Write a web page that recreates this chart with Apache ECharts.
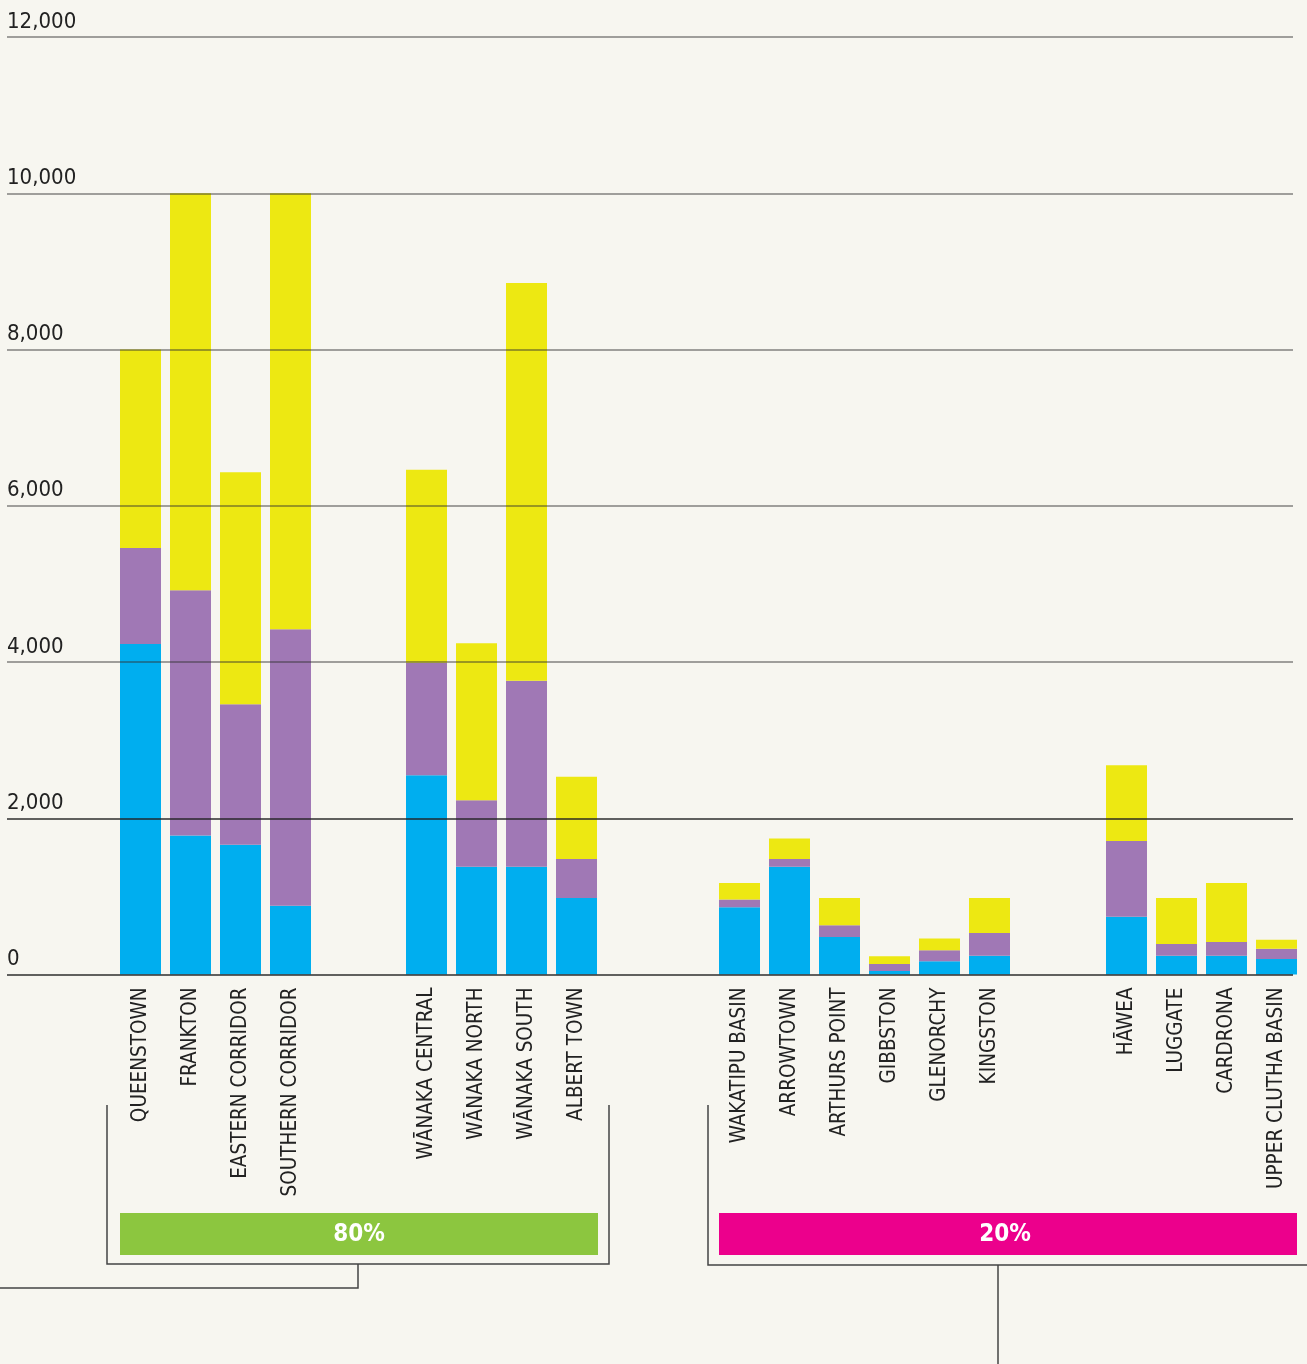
<!DOCTYPE html>
<html>
<head>
<meta charset="utf-8">
<script src="https://cdn.jsdelivr.net/npm/echarts@6/dist/echarts.min.js"></script>
<style>
html,body{margin:0;padding:0;background:#F7F6F0;}
#chart{width:1307px;height:1364px;}
</style>
</head>
<body>
<div id="chart"></div>
<script>
// ---- DATA ----
const categories = [
  'QUEENSTOWN','FRANKTON','EASTERN CORRIDOR','SOUTHERN CORRIDOR',
  'WĀNAKA CENTRAL','WĀNAKA NORTH','WĀNAKA SOUTH','ALBERT TOWN',
  'WAKATIPU BASIN','ARROWTOWN','ARTHURS POINT','GIBBSTON','GLENORCHY','KINGSTON',
  'HĀWEA','LUGGATE','CARDRONA','UPPER CLUTHA BASIN'
];
const groupSizes = [4, 4, 6, 4];
const blueValues   = [4230, 1780, 1660,  880, 2550, 1380, 1380,  980,  860, 1380, 480,  45, 170, 240, 740, 240, 240, 200];
const purpleValues = [1230, 3140, 1800, 3540, 1440,  850, 2380,  500,  100,  100, 150,  90, 140, 290, 970, 150, 175, 130];
const yellowValues = [2540, 5080, 2970, 5580, 2470, 2010, 5090, 1050,  210,  260, 350, 100, 150, 450, 970, 590, 755, 115];
const yTicks = [0, 2000, 4000, 6000, 8000, 10000, 12000];
const bandLabels = ['80%', '20%'];

// ---- LAYOUT ----
const W = 1307, H = 1364;
const plotTop = 37, plotBottom = H - 974.5;
const slot = 50;
const groupLefts = [115.5, 401.5, 714.5, 1101.5];
const colors = {blue:'#00AEEF', purple:'#A078B5', yellow:'#EDE812'};
const FONT = '"DejaVu Sans Condensed", "Liberation Sans Narrow", sans-serif';

const grids = [], xAxes = [], yAxes = [], series = [];
// background grid for gridlines and y labels
grids.push({left: 7, right: W - 1293, top: plotTop, bottom: plotBottom});
xAxes.push({type:'value', gridIndex:0, show:false, min:0, max:1});
yAxes.push({
  type:'value', gridIndex:0, min:0, max:12000, interval:2000, z:10,
  axisLine:{show:false}, axisTick:{show:false},
  axisLabel:{inside:true, align:'left', verticalAlign:'bottom', margin:0,
    padding:[0,0,4,0], fontFamily:FONT, fontSize:22, color:'#222',
    formatter: v => yTicks.includes(v) ? v.toLocaleString('en-US') : ''},
  splitLine:{show:true, lineStyle:{width:1.5,
    color:['rgba(35,35,35,0.95)','rgba(35,35,35,0.95)','rgba(50,50,50,0.6)','rgba(50,50,50,0.6)','rgba(50,50,50,0.6)','rgba(50,50,50,0.6)','rgba(50,50,50,0.6)']}}
});

let start = 0;
groupSizes.forEach((n, g) => {
  const gi = g + 1;
  grids.push({left: groupLefts[g], width: n * slot, top: plotTop, bottom: plotBottom});
  const cats = categories.slice(start, start + n);
  xAxes.push({
    type:'category', gridIndex:gi, data:cats,
    axisLine:{show:false}, axisTick:{show:false},
    axisLabel:{rotate:90, margin:13, fontFamily:FONT, fontSize:20.5, color:'#222', interval:0}
  });
  yAxes.push({type:'value', gridIndex:gi, min:0, max:12000, show:false, splitLine:{show:false}});
  [['Blue segment', blueValues, colors.blue],
   ['Purple segment', purpleValues, colors.purple],
   ['Yellow segment', yellowValues, colors.yellow]].forEach(([name, arr, c]) => {
    series.push({
      type:'bar', name, stack:'s' + g, xAxisIndex:gi, yAxisIndex:gi,
      barWidth:41, itemStyle:{color:c}, z:2,
      data: arr.slice(start, start + n)
    });
  });
  start += n;
});

const lineStyle = {stroke:'#444', lineWidth:1.5, fill:null};
const graphic = [
  // left bracket
  {type:'polyline', shape:{points:[[107,1105],[107,1264],[609,1264],[609,1105]]}, style:lineStyle, silent:true},
  {type:'polyline', shape:{points:[[358,1264],[358,1288],[0,1288]]}, style:lineStyle, silent:true},
  // right bracket
  {type:'polyline', shape:{points:[[708,1105],[708,1265],[1307,1265]]}, style:lineStyle, silent:true},
  {type:'polyline', shape:{points:[[998,1265],[998,1364]]}, style:lineStyle, silent:true},
  // bands
  {type:'rect', shape:{x:120, y:1213, width:478, height:42}, style:{fill:'#8CC63F'}},
  {type:'text', x:359, y:1235, style:{text:bandLabels[0], fill:'#fff', font:'bold 24px ' + FONT, textAlign:'center', textVerticalAlign:'middle'}},
  {type:'rect', shape:{x:719, y:1213, width:578, height:42}, style:{fill:'#EC008C'}},
  {type:'text', x:1005, y:1235, style:{text:bandLabels[1], fill:'#fff', font:'bold 24px ' + FONT, textAlign:'center', textVerticalAlign:'middle'}}
];

const chart = echarts.init(document.getElementById('chart'), null, {renderer:'canvas'});
chart.setOption({
  backgroundColor:'#F7F6F0',
  animation:false,
  grid:grids, xAxis:xAxes, yAxis:yAxes, series, graphic
});
</script>
</body>
</html>
